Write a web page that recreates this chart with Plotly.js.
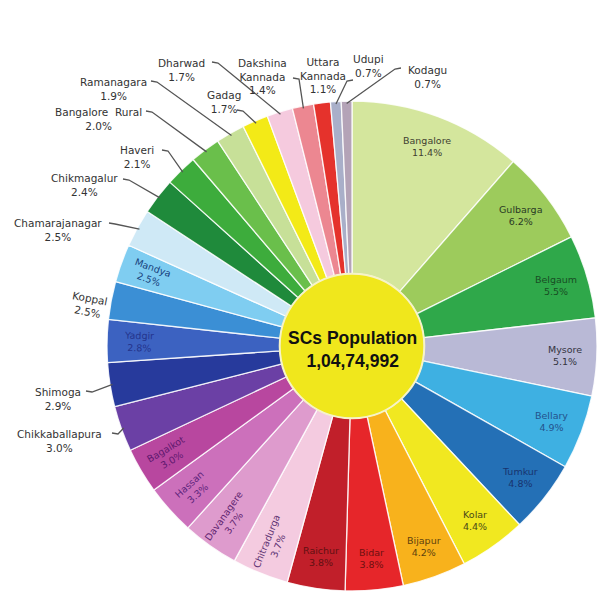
<!DOCTYPE html>
<html><head><meta charset="utf-8">
<script src="https://cdn.plot.ly/plotly-3.0.1.min.js"></script>
<style>html,body{margin:0;padding:0;background:#fff}#chart{width:598px;height:597px}</style>
</head><body><div id="chart"></div>
<script>
// ---- data (clockwise from 12 o'clock) ----
const districts = ['Bangalore','Gulbarga','Belgaum','Mysore','Bellary','Tumkur','Kolar','Bijapur','Bidar','Raichur',
  'Chitradurga','Davanagere','Hassan','Bagalkot','Chikkaballapura','Shimoga','Yadgir','Koppal','Mandya','Chamarajanagar',
  'Chikmagalur','Haveri','Bangalore Rural','Ramanagara','Gadag','Dharwad','Dakshina Kannada','Uttara Kannada','Udupi','Kodagu'];
const shares = [11.4,6.2,5.5,5.1,4.9,4.8,4.4,4.2,3.8,3.8,
  3.7,3.7,3.3,3.0,3.0,2.9,2.8,2.5,2.5,2.5,
  2.4,2.1,2.0,1.9,1.7,1.7,1.4,1.1,0.7,0.7];
const centerTitle = 'SCs Population';
const centerTotal = '1,04,74,992';

// ---- styles ----
const sliceColors = ['#d4e69d','#9dcb5c','#2fa84a','#b9b9d6','#3eb0e2','#2470b6','#f1e820','#f8b21c','#e6262a','#c11f2a',
  '#f4cbe0','#de9bcd','#cc70bb','#b8479f','#6b40a5','#273a9c','#3c62c1','#3b8fd5','#7fcdf1','#cfe9f6',
  '#1f8a3b','#3dac3c','#6abf4b','#c7e098','#f3ea17','#f5cade','#ec8791','#e5322c','#a9afc9','#b4a3b7'];
const insideColors = {
  'Bangalore':'#3f3f32','Gulbarga':'#2a3a24','Belgaum':'#184e24','Mysore':'#34343f','Bellary':'#24528c',
  'Tumkur':'#18336e','Kolar':'#4a4a18','Bijapur':'#5e420e','Bidar':'#6e1010','Raichur':'#621012',
  'Chitradurga':'#5e3272','Davanagere':'#5e2470','Hassan':'#5e247c','Bagalkot':'#5e186e','Yadgir':'#24348c','Mandya':'#18427c'
};
// outside label placement (text block centre px, leader start px)
const outsidePos = {
  'Chamarajanagar':{x:58,y:230,lx:109,ly:223},
  'Chikmagalur':{x:84,y:185,lx:123,ly:179},
  'Haveri':{x:137,y:157,lx:162,ly:150},
  'Bangalore Rural':{x:98,y:119,lx:146,ly:111},
  'Ramanagara':{x:113,y:89,lx:151,ly:81},
  'Gadag':{x:224,y:102,lx:237,ly:110},
  'Dharwad':{x:181,y:70,lx:212,ly:62},
  'Dakshina Kannada':{x:262,y:76,lx:293,ly:78},
  'Uttara Kannada':{x:323,y:75},
  'Udupi':{x:368,y:66,lx:353,ly:80},
  'Kodagu':{x:427,y:77,lx:401,ly:68},
  'Koppal':{x:88,y:305},
  'Shimoga':{x:58,y:399,lx:86,ly:391},
  'Chikkaballapura':{x:59,y:441,lx:112,ly:433}
};
const outsideText = {'Bangalore Rural':'Bangalore  Rural','Dakshina Kannada':'Dakshina<br>Kannada','Uttara Kannada':'Uttara<br>Kannada'};

const W = 598, H = 597, CX = 352, CY = 346, R = 245, HOLE = 0.295, INR = 0.87;
const px = x => x / W, py = y => 1 - y / H;

const total = shares.reduce((a, b) => a + b, 0);
let cum = 0;
const mids = shares.map(v => { const m = (cum + v / 2) / total * 360; cum += v; return m; });
const pt = (deg, r) => [CX + r * Math.sin(deg * Math.PI / 180), CY - r * Math.cos(deg * Math.PI / 180)];

const annotations = [], shapes = [];
const base = {xref:'paper', yref:'paper', showarrow:false, xanchor:'center', yanchor:'middle', align:'center'};
districts.forEach((name, i) => {
  const pct = shares[i].toFixed(1) + '%';
  const m = mids[i];
  const radial = (m > 195 && m < 300);
  if (outsidePos[name]) {
    const o = outsidePos[name];
    const t = (outsideText[name] || name);
    annotations.push(Object.assign({}, base, {x:px(o.x), y:py(o.y),
      text: t + '<br>' + pct, textangle: name === 'Koppal' ? m - 270 : 0,
      font:{family:'DejaVu Sans, Verdana, sans-serif', size:10.5, color:'#333333'}}));
    if (o.lx !== undefined) {
      const e = pt(m, R * 0.99);
      const dir = e[0] > o.lx ? 1 : -1;
      shapes.push({type:'path', xref:'paper', yref:'paper', layer:'above',
        path:`M ${px(o.lx)} ${py(o.ly)} L ${px(o.lx + 6*dir)} ${py(o.ly + 1)} L ${px(e[0])} ${py(e[1])}`,
        line:{color:'#555555', width:1.3}});
    }
  } else {
    const p = pt(m, R * INR);
    annotations.push(Object.assign({}, base, {x:px(p[0]), y:py(p[1]),
      text: name + '<br>' + pct, textangle: radial ? m - 270 : 0,
      font:{family:'DejaVu Sans, Verdana, sans-serif', size:9.5, color: insideColors[name] || '#333'}}));
  }
});

// centre disc and text
const RC = R * HOLE;
shapes.push({type:'circle', xref:'paper', yref:'paper', layer:'above',
  x0:px(CX - RC), x1:px(CX + RC), y0:py(CY + RC), y1:py(CY - RC),
  fillcolor:'#f0e71c', line:{color:'#f6f3c8', width:2}});
annotations.push(Object.assign({}, base, {x:px(CX), y:py(CY + 3),
  text:'<b>' + centerTitle + '</b><br><b>' + centerTotal + '</b>',
  font:{family:'Liberation Sans, Arial, sans-serif', size:17.5, color:'#111111'}}));

const trace = {
  type:'pie', labels:districts, values:shares, sort:false, direction:'clockwise', rotation:0,
  hole:HOLE, textinfo:'none', hoverinfo:'label+percent',
  marker:{colors:sliceColors, line:{color:'rgba(255,255,255,0.85)', width:1.3}},
  domain:{x:[px(CX - R), px(CX + R)], y:[py(CY + R), py(CY - R)]},
  showlegend:false
};

Plotly.newPlot('chart', [trace], {
  width:W, height:H, margin:{l:0, r:0, t:0, b:0},
  paper_bgcolor:'#ffffff', showlegend:false,
  annotations, shapes
}, {displayModeBar:false, staticPlot:true});
</script></body></html>
